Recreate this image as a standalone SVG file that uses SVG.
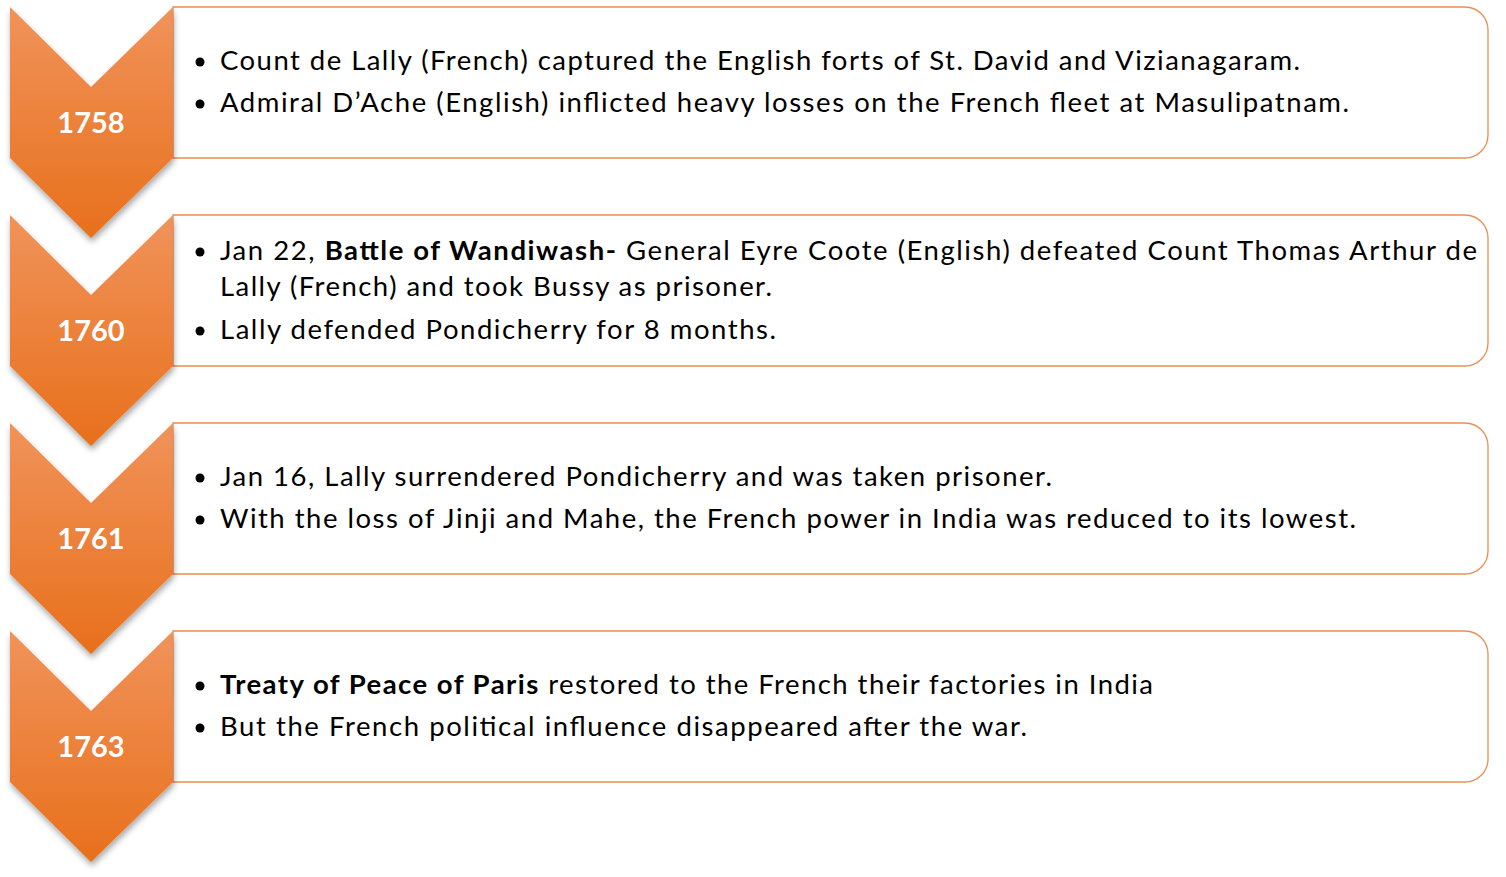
<svg xmlns="http://www.w3.org/2000/svg" width="1506" height="877" viewBox="0 0 1506 877">
<style>
.box{fill:#ffffff;stroke:#ED8D4F;stroke-width:1.3}
.chev{fill:url(#og);filter:url(#sh)}
.yr{font-family:Lato,"Liberation Sans",sans-serif;font-weight:700;font-size:29px;fill:#ffffff;text-anchor:middle}
.t{font-family:Lato,"Liberation Sans",sans-serif;font-size:27.5px;fill:#000000}
.b{font-weight:700}
.dot{fill:#000000}
</style>
<defs>
<linearGradient id="og" x1="0" y1="0" x2="0" y2="1">
<stop offset="0" stop-color="#F0935A"/>
<stop offset="1" stop-color="#E8701C"/>
</linearGradient>
<filter id="sh" x="-20%" y="-10%" width="140%" height="130%">
<feGaussianBlur in="SourceAlpha" stdDeviation="3"/>
<feOffset dx="1" dy="4" result="o"/>
<feComponentTransfer><feFuncA type="linear" slope="0.35"/></feComponentTransfer>
<feMerge><feMergeNode/><feMergeNode in="SourceGraphic"/></feMerge>
</filter>
<path id="chv" d="M0,0 L81,80 L163,0 L163,151 L81,231 L0,151 Z"/>
<path id="bx" d="M0,0 H1292 A23,23 0 0 1 1315,23 V128 A23,23 0 0 1 1292,151 H0 Z"/>
</defs>

<g id="node-1758">
<use href="#bx" class="box" x="173" y="7"/>
<use href="#chv" class="chev" x="10" y="7"/>
<text class="yr" x="91" y="133">1758</text>
<circle class="dot" cx="200" cy="62" r="4.5"/>
<text class="t" x="220" y="70" textLength="1080" lengthAdjust="spacing">Count de Lally (French) captured the English forts of St. David and Vizianagaram.</text>
<circle class="dot" cx="200" cy="104" r="4.5"/>
<text class="t" x="220" y="112" textLength="1129" lengthAdjust="spacing">Admiral D’Ache (English) inflicted heavy losses on the French fleet at Masulipatnam.</text>
</g>

<g id="node-1760">
<use href="#bx" class="box" x="173" y="215"/>
<use href="#chv" class="chev" x="10" y="215"/>
<text class="yr" x="91" y="341">1760</text>
<circle class="dot" cx="200" cy="252" r="4.5"/>
<text class="t" x="220" y="260" textLength="1257" lengthAdjust="spacing">Jan 22, <tspan class="b">Battle of Wandiwash-</tspan> General Eyre Coote (English) defeated Count Thomas Arthur de</text>
<text class="t" x="220" y="296" textLength="552" lengthAdjust="spacing">Lally (French) and took Bussy as prisoner.</text>
<circle class="dot" cx="200" cy="331" r="4.5"/>
<text class="t" x="220" y="339" textLength="556" lengthAdjust="spacing">Lally defended Pondicherry for 8 months.</text>
</g>

<g id="node-1761">
<use href="#bx" class="box" x="173" y="423"/>
<use href="#chv" class="chev" x="10" y="423"/>
<text class="yr" x="91" y="549">1761</text>
<circle class="dot" cx="200" cy="478" r="4.5"/>
<text class="t" x="220" y="486" textLength="832" lengthAdjust="spacing">Jan 16, Lally surrendered Pondicherry and was taken prisoner.</text>
<circle class="dot" cx="200" cy="520" r="4.5"/>
<text class="t" x="220" y="528" textLength="1136" lengthAdjust="spacing">With the loss of Jinji and Mahe, the French power in India was reduced to its lowest.</text>
</g>

<g id="node-1763">
<use href="#bx" class="box" x="173" y="631"/>
<use href="#chv" class="chev" x="10" y="631"/>
<text class="yr" x="91" y="757">1763</text>
<circle class="dot" cx="200" cy="686" r="4.5"/>
<text class="t" x="220" y="694" textLength="933" lengthAdjust="spacing"><tspan class="b">Treaty of Peace of Paris</tspan> restored to the French their factories in India</text>
<circle class="dot" cx="200" cy="728" r="4.5"/>
<text class="t" x="220" y="736" textLength="807" lengthAdjust="spacing">But the French political influence disappeared after the war.</text>
</g>
</svg>
